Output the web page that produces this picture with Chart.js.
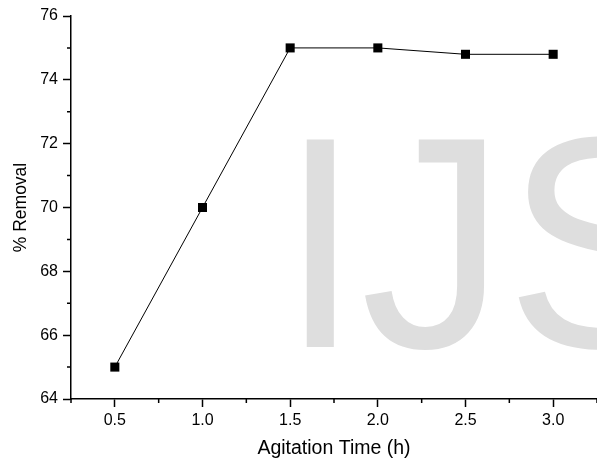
<!DOCTYPE html>
<html>
<head>
<meta charset="utf-8">
<script src="https://cdn.jsdelivr.net/npm/chart.js@4/dist/chart.umd.min.js"></script>
<style>
html,body{margin:0;padding:0;background:#fff;}
canvas{display:block;}
</style>
</head>
<body>
<canvas id="c" width="597" height="460"></canvas>
<script>
const agitationTime = [0.5, 1.0, 1.5, 2.0, 2.5, 3.0];
const percentRemoval = [65, 70, 75, 75, 74.8, 74.8];
const xMajorTicks = [0.5, 1.0, 1.5, 2.0, 2.5, 3.0];
const yMajorTicks = [64, 66, 68, 70, 72, 74, 76];
const xMinorTicks = [0.25, 0.75, 1.25, 1.75, 2.25, 2.75, 3.25];
const yMinorTicks = [65, 67, 69, 71, 73, 75];
const watermarkText = 'IJS';

const FONT = 'Liberation Sans, Arial, Helvetica, sans-serif';

const minorTickPlugin = {
  id: 'minorTicks',
  afterDraw(chart) {
    const ctx = chart.ctx;
    const xs = chart.scales.x, ys = chart.scales.y;
    ctx.save();
    ctx.strokeStyle = '#000';
    ctx.lineWidth = 1.5;
    ctx.beginPath();
    xMinorTicks.forEach(v => {
      const px = xs.getPixelForValue(v);
      ctx.moveTo(px, ys.bottom);
      ctx.lineTo(px, ys.bottom + 4);
    });
    yMinorTicks.forEach(v => {
      const py = ys.getPixelForValue(v);
      ctx.moveTo(xs.left, py);
      ctx.lineTo(xs.left - 4, py);
    });
    ctx.stroke();
    ctx.restore();
  }
};

const watermarkPlugin = {
  id: 'watermark',
  beforeDatasetsDraw(chart) {
    const ctx = chart.ctx;
    ctx.save();
    ctx.fillStyle = '#dedede';
    ctx.font = '290px ' + FONT;
    ctx.textBaseline = 'alphabetic';
    ctx.textAlign = 'left';
    ctx.translate(280, 347);
    ctx.scale(1, 1.04);
    ctx.fillText(watermarkText, 0, 0);
    ctx.restore();
  }
};

new Chart(document.getElementById('c'), {
  type: 'scatter',
  data: {
    datasets: [{
      data: agitationTime.map((x, i) => ({x: x, y: percentRemoval[i]})),
      showLine: true,
      borderColor: '#000',
      borderWidth: 1,
      backgroundColor: '#000',
      pointStyle: 'rect',
      pointRadius: 6.4,
      pointHoverRadius: 6.4,
      pointBorderWidth: 0,
      tension: 0
    }]
  },
  options: {
    responsive: false,
    animation: false,
    events: [],
    layout: {autoPadding: false, padding: {left: 0, right: -2, top: 16, bottom: 0}},
    plugins: {legend: {display: false}, tooltip: {enabled: false}},
    scales: {
      x: {
        type: 'linear',
        min: 0.25,
        max: 3.25,
        afterBuildTicks(scale) { scale.ticks = xMajorTicks.map(v => ({value: v})); },
        afterFit(scale) { scale.height = 61; scale.paddingRight = 0; scale.paddingLeft = 0; },
        border: {display: true, color: '#000', width: 1.5},
        grid: {drawOnChartArea: false, drawTicks: true, tickLength: 8, tickColor: '#000', tickWidth: 1.5},
        ticks: {
          color: '#000',
          font: {family: FONT, size: 16},
          padding: 4,
          maxRotation: 0,
          autoSkip: false,
          callback: v => Number(v).toFixed(1)
        },
        title: {display: true, text: 'Agitation Time (h)', color: '#000', font: {family: FONT, size: 19.5}, padding: {top: 0, bottom: 0}}
      },
      y: {
        type: 'linear',
        min: 64,
        max: 76,
        afterBuildTicks(scale) { scale.ticks = yMajorTicks.map(v => ({value: v})); },
        afterFit(scale) { scale.width = 71; scale.paddingTop = 0; scale.paddingBottom = 0; },
        border: {display: true, color: '#000', width: 1.5},
        grid: {drawOnChartArea: false, drawTicks: true, tickLength: 8, tickColor: '#000', tickWidth: 1.5},
        ticks: {
          color: '#000',
          font: {family: FONT, size: 16},
          padding: 5,
          autoSkip: false,
          callback: v => String(v)
        },
        title: {display: true, text: '% Removal', color: '#000', font: {family: FONT, size: 17.5}, padding: {top: 11, bottom: 0}}
      }
    }
  },
  plugins: [watermarkPlugin, minorTickPlugin]
});
</script>
</body>
</html>
